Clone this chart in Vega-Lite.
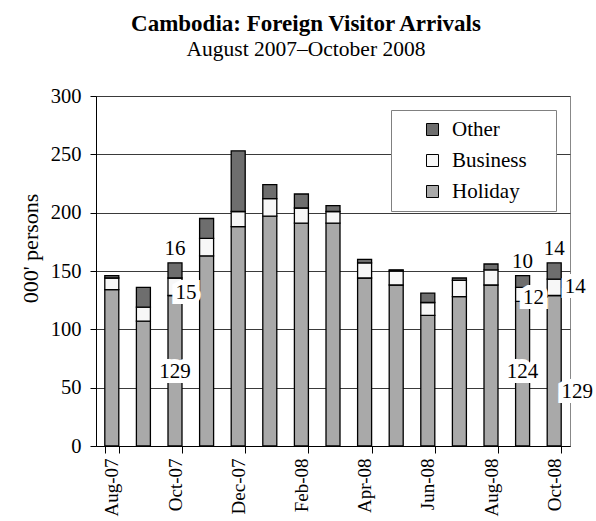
{
  "$schema": "https://vega.github.io/schema/vega-lite/v6.json",
  "width": 474,
  "height": 350,
  "autosize": "none",
  "padding": {"left": 96, "top": 96, "right": 26, "bottom": 75},
  "background": "white",
  "config": {"view": {"stroke": "#888888", "strokeWidth": 1}},
  "title": {
    "text": "Cambodia: Foreign Visitor Arrivals",
    "subtitle": "August 2007–October 2008",
    "font": "Liberation Serif",
    "fontSize": 23,
    "fontWeight": "bold",
    "color": "black",
    "subtitleFont": "Liberation Serif",
    "subtitleFontSize": 21.5,
    "subtitleColor": "black",
    "subtitlePadding": 3,
    "anchor": "middle",
    "frame": "group",
    "dx": -27,
    "offset": 26
  },
  "data": {
    "values": [
      {"month": "Aug-07", "series": "Holiday", "k": 1, "value": 134, "label": null},
      {"month": "Aug-07", "series": "Business", "k": 2, "value": 10, "label": null},
      {"month": "Aug-07", "series": "Other", "k": 3, "value": 2, "label": null},
      {"month": "Sep-07", "series": "Holiday", "k": 1, "value": 107, "label": null},
      {"month": "Sep-07", "series": "Business", "k": 2, "value": 12, "label": null},
      {"month": "Sep-07", "series": "Other", "k": 3, "value": 17, "label": null},
      {"month": "Oct-07", "series": "Holiday", "k": 1, "value": 129, "label": "129"},
      {"month": "Oct-07", "series": "Business", "k": 2, "value": 15, "label": "15"},
      {"month": "Oct-07", "series": "Other", "k": 3, "value": 13, "label": "16"},
      {"month": "Nov-07", "series": "Holiday", "k": 1, "value": 163, "label": null},
      {"month": "Nov-07", "series": "Business", "k": 2, "value": 15, "label": null},
      {"month": "Nov-07", "series": "Other", "k": 3, "value": 17, "label": null},
      {"month": "Dec-07", "series": "Holiday", "k": 1, "value": 188, "label": null},
      {"month": "Dec-07", "series": "Business", "k": 2, "value": 13, "label": null},
      {"month": "Dec-07", "series": "Other", "k": 3, "value": 52, "label": null},
      {"month": "Jan-08", "series": "Holiday", "k": 1, "value": 197, "label": null},
      {"month": "Jan-08", "series": "Business", "k": 2, "value": 15, "label": null},
      {"month": "Jan-08", "series": "Other", "k": 3, "value": 12, "label": null},
      {"month": "Feb-08", "series": "Holiday", "k": 1, "value": 191, "label": null},
      {"month": "Feb-08", "series": "Business", "k": 2, "value": 13, "label": null},
      {"month": "Feb-08", "series": "Other", "k": 3, "value": 12, "label": null},
      {"month": "Mar-08", "series": "Holiday", "k": 1, "value": 191, "label": null},
      {"month": "Mar-08", "series": "Business", "k": 2, "value": 10, "label": null},
      {"month": "Mar-08", "series": "Other", "k": 3, "value": 5, "label": null},
      {"month": "Apr-08", "series": "Holiday", "k": 1, "value": 144, "label": null},
      {"month": "Apr-08", "series": "Business", "k": 2, "value": 13, "label": null},
      {"month": "Apr-08", "series": "Other", "k": 3, "value": 3, "label": null},
      {"month": "May-08", "series": "Holiday", "k": 1, "value": 138, "label": null},
      {"month": "May-08", "series": "Business", "k": 2, "value": 12, "label": null},
      {"month": "May-08", "series": "Other", "k": 3, "value": 1, "label": null},
      {"month": "Jun-08", "series": "Holiday", "k": 1, "value": 112, "label": null},
      {"month": "Jun-08", "series": "Business", "k": 2, "value": 11, "label": null},
      {"month": "Jun-08", "series": "Other", "k": 3, "value": 8, "label": null},
      {"month": "Jul-08", "series": "Holiday", "k": 1, "value": 128, "label": null},
      {"month": "Jul-08", "series": "Business", "k": 2, "value": 14, "label": null},
      {"month": "Jul-08", "series": "Other", "k": 3, "value": 2, "label": null},
      {"month": "Aug-08", "series": "Holiday", "k": 1, "value": 138, "label": null},
      {"month": "Aug-08", "series": "Business", "k": 2, "value": 13, "label": null},
      {"month": "Aug-08", "series": "Other", "k": 3, "value": 5, "label": null},
      {"month": "Sep-08", "series": "Holiday", "k": 1, "value": 124, "label": "124"},
      {"month": "Sep-08", "series": "Business", "k": 2, "value": 12, "label": "12"},
      {"month": "Sep-08", "series": "Other", "k": 3, "value": 10, "label": "10"},
      {"month": "Oct-08", "series": "Holiday", "k": 1, "value": 129, "label": "129"},
      {"month": "Oct-08", "series": "Business", "k": 2, "value": 14, "label": "14"},
      {"month": "Oct-08", "series": "Other", "k": 3, "value": 14, "label": "14"}
    ]
  },
  "layer": [
    {
      "mark": {"type": "bar", "stroke": "black", "strokeWidth": 1.3},
      "encoding": {
        "x": {
          "field": "month",
          "type": "ordinal",
          "sort": null,
          "scale": {
            "domain": ["Aug-07", "Sep-07", "Oct-07", "Nov-07", "Dec-07", "Jan-08", "Feb-08", "Mar-08", "Apr-08", "May-08", "Jun-08", "Jul-08", "Aug-08", "Sep-08", "Oct-08"],
            "paddingInner": 0.557,
            "paddingOuter": 0.2785
          },
          "axis": {
            "title": null,
            "values": ["Aug-07", "Oct-07", "Dec-07", "Feb-08", "Apr-08", "Jun-08", "Aug-08", "Oct-08"],
            "labelAngle": -90,
            "labelAlign": "right",
            "labelBaseline": "middle",
            "labelFont": "Liberation Serif",
            "labelFontSize": 19,
            "labelColor": "black",
            "labelPadding": 5,
            "tickBand": "extent",
            "tickColor": "black",
            "tickSize": 7,
            "domainColor": "black",
            "grid": false
          }
        },
        "y": {
          "field": "value",
          "type": "quantitative",
          "stack": "zero",
          "scale": {"domain": [0, 300]},
          "axis": {
            "title": "000' persons",
            "titleFont": "Liberation Serif",
            "titleFontSize": 22,
            "titleFontWeight": "normal",
            "titleColor": "black",
            "titlePadding": 8,
            "titleY": 152,
            "values": [0, 50, 100, 150, 200, 250, 300],
            "labelFont": "Liberation Serif",
            "labelFontSize": 20.5,
            "labelColor": "black",
            "labelPadding": 9,
            "tickColor": "black",
            "tickSize": 6,
            "domainColor": "black",
            "grid": true,
            "gridColor": "#3a3a3a",
            "gridWidth": 1
          }
        },
        "color": {
          "field": "series",
          "type": "nominal",
          "scale": {"domain": ["Other", "Business", "Holiday"], "range": ["#6e6e6e", "#f7f7f7", "#a9a9a9"]},
          "legend": {
            "title": "\u00a0",
            "titleOrient": "right",
            "titlePadding": 20,
            "titleFontSize": 10,
            "orient": "top-right",
            "offset": 14,
            "fillColor": "white",
            "strokeColor": "#808080",
            "padding": 9,
            "rowPadding": 9,
            "labelFont": "Liberation Serif",
            "labelFontSize": 21,
            "labelColor": "black",
            "labelOffset": 9,
            "symbolType": "square",
            "symbolSize": 144,
            "symbolStrokeColor": "black",
            "symbolStrokeWidth": 1,
            "symbolOffset": 22
          }
        },
        "order": {"field": "k", "type": "quantitative"}
      }
    },
    {
      "transform": [
        {"stack": "value", "groupby": ["month"], "sort": [{"field": "k", "order": "ascending"}], "as": ["v0", "v1"]},
        {"filter": "datum.label != null"}
      ],
      "layer": [
        {
          "transform": [{"filter": "datum.series == 'Other'"}],
          "mark": {"type": "text", "font": "Liberation Serif", "fontSize": 21, "color": "black", "baseline": "middle", "align": "center", "dy": -14},
          "encoding": {
            "x": {"field": "month", "type": "ordinal", "sort": null},
            "y": {"field": "v1", "type": "quantitative"},
            "text": {"field": "label"}
          }
        },
        {
          "transform": [{"filter": "datum.series == 'Holiday' && datum.month != 'Oct-08'"}],
          "mark": {"type": "text", "font": "Liberation Serif", "fontSize": 21, "color": "white", "stroke": "white", "strokeWidth": 10, "strokeJoin": "miter", "baseline": "middle", "align": "center", "dy": -74},
          "encoding": {
            "x": {"field": "month", "type": "ordinal", "sort": null},
            "y": {"field": "v0", "type": "quantitative"},
            "text": {"field": "label"}
          }
        },
        {
          "transform": [{"filter": "datum.series == 'Holiday' && datum.month != 'Oct-08'"}],
          "mark": {"type": "text", "font": "Liberation Serif", "fontSize": 21, "color": "black", "baseline": "middle", "align": "center", "dy": -74},
          "encoding": {
            "x": {"field": "month", "type": "ordinal", "sort": null},
            "y": {"field": "v0", "type": "quantitative"},
            "text": {"field": "label"}
          }
        },
        {
          "transform": [{"filter": "datum.series == 'Holiday' && datum.month == 'Oct-08'"}],
          "mark": {"type": "text", "font": "Liberation Serif", "fontSize": 21, "color": "white", "stroke": "white", "strokeWidth": 10, "strokeJoin": "miter", "baseline": "middle", "align": "center", "dx": 23, "dy": -54},
          "encoding": {
            "x": {"field": "month", "type": "ordinal", "sort": null},
            "y": {"field": "v0", "type": "quantitative"},
            "text": {"field": "label"}
          }
        },
        {
          "transform": [{"filter": "datum.series == 'Holiday' && datum.month == 'Oct-08'"}],
          "mark": {"type": "text", "font": "Liberation Serif", "fontSize": 21, "color": "black", "baseline": "middle", "align": "center", "dx": 23, "dy": -54},
          "encoding": {
            "x": {"field": "month", "type": "ordinal", "sort": null},
            "y": {"field": "v0", "type": "quantitative"},
            "text": {"field": "label"}
          }
        },
        {
          "transform": [{"filter": "datum.series == 'Business' && datum.month != 'Oct-08'"}],
          "mark": {"type": "text", "font": "Liberation Serif", "fontSize": 21, "color": "white", "stroke": "white", "strokeWidth": 10, "strokeJoin": "miter", "baseline": "middle", "align": "center", "dx": 11, "dy": -3},
          "encoding": {
            "x": {"field": "month", "type": "ordinal", "sort": null},
            "y": {"field": "v0", "type": "quantitative"},
            "text": {"field": "label"}
          }
        },
        {
          "transform": [{"filter": "datum.series == 'Business' && datum.month != 'Oct-08'"}],
          "mark": {"type": "text", "font": "Liberation Serif", "fontSize": 21, "color": "black", "baseline": "middle", "align": "center", "dx": 11, "dy": -3},
          "encoding": {
            "x": {"field": "month", "type": "ordinal", "sort": null},
            "y": {"field": "v0", "type": "quantitative"},
            "text": {"field": "label"}
          }
        },
        {
          "transform": [{"filter": "datum.series == 'Business' && datum.month == 'Oct-08'"}],
          "mark": {"type": "text", "font": "Liberation Serif", "fontSize": 21, "color": "white", "stroke": "white", "strokeWidth": 10, "strokeJoin": "miter", "baseline": "middle", "align": "center", "dx": 21, "dy": -9},
          "encoding": {
            "x": {"field": "month", "type": "ordinal", "sort": null},
            "y": {"field": "v0", "type": "quantitative"},
            "text": {"field": "label"}
          }
        },
        {
          "transform": [{"filter": "datum.series == 'Business' && datum.month == 'Oct-08'"}],
          "mark": {"type": "text", "font": "Liberation Serif", "fontSize": 21, "color": "black", "baseline": "middle", "align": "center", "dx": 21, "dy": -9},
          "encoding": {
            "x": {"field": "month", "type": "ordinal", "sort": null},
            "y": {"field": "v0", "type": "quantitative"},
            "text": {"field": "label"}
          }
        }
      ]
    }
  ]
}
